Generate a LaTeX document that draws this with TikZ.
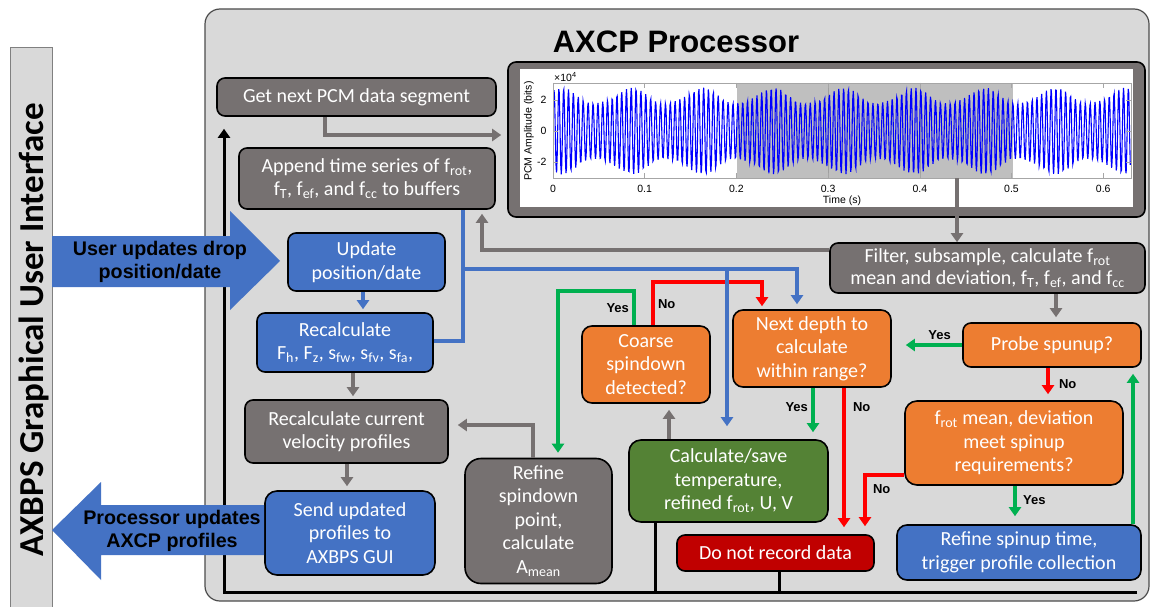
\documentclass[tikz,border=0pt]{standalone}
\usepackage{fontspec}
\setmainfont{Carlito}
\newfontfamily\arialfont{Liberation Sans}
\usetikzlibrary{arrows.meta}
\definecolor{panel}{HTML}{D9D9D9}
\definecolor{boxgray}{HTML}{767171}
\definecolor{boxblue}{HTML}{4472C4}
\definecolor{boxorange}{HTML}{ED7D31}
\definecolor{boxgreen}{HTML}{548235}
\definecolor{boxred}{HTML}{C00000}
\definecolor{argreen}{HTML}{00B050}
\definecolor{arred}{HTML}{FF0000}
\begin{document}
\begin{tikzpicture}[x=1pt, y=-1pt, >={Triangle[width=12pt,length=9pt]},
  box/.style={draw=black, line width=1.6pt, rounded corners=8pt, text=white, align=center,
    inner sep=0pt, font=\fontsize{20}{23.5}\selectfont},
  wire/.style={line width=3.5pt, ->},
  graywire/.style={wire, draw=boxgray},
  bluewire/.style={wire, draw=boxblue},
  yeswire/.style={wire, draw=argreen},
  nowire/.style={wire, draw=arred},
  loopline/.style={line width=3pt, draw=black},
  lbl/.style={font=\arialfont\bfseries\fontsize{13}{15}\selectfont, text=black},
  plottext/.style={font=\arialfont\fontsize{10.5}{12}\selectfont}]
  \useasboundingbox (0,0) rectangle (1151,607);

  \filldraw[fill=panel, draw=gray!60!black, line width=1.2pt, rounded corners=15pt] (205,9) rectangle (1149,601);
  \filldraw[fill=panel, draw=gray, line width=0.8pt] (10,47) rectangle (52,612);
  \node[rotate=90, font=\bfseries\fontsize{35}{40}\selectfont] (gui) at (34,330) {AXBPS Graphical User Interface};
  \node[font=\arialfont\bfseries\fontsize{31}{36}\selectfont] (title) at (676,42) {AXCP Processor};

  \node[draw=black, line width=1.6pt, fill=boxgray, rounded corners=8pt, minimum width=637pt,
    minimum height=155pt, inner sep=0pt] (chart) at (826.5,139.5) {};
  \fill[white] (520,69) rectangle (1133,207);
  \fill[gray!50] (737,83) rectangle (1013,178);
  \draw[gray!75, line width=0.5pt] (828.7,83) -- (828.7,178) (920.4,83) -- (920.4,178);
  \begin{scope}
    \clip (553,83) rectangle (1131,178);
    \draw[blue, line width=1.1pt] plot[domain=0:0.63, samples=1100]
      ({553+917*\x}, {131-15.5*(2.2*sin(360*mod(190*\x,1))+0.5*sin(360*mod(203*\x,1))+0.35*sin(360*mod(177*\x+0.3,1)))});
  \end{scope}
  \draw[gray!70, line width=0.6pt] (553,83) rectangle (1131,178);
  \foreach \k/\lab in {0/0,1/0.1,2/0.2,3/0.3,4/0.4,5/0.5,6/0.6} {
    \draw[gray!70, line width=0.5pt] (553+91.7*\k,178) -- ++(0,-5) (553+91.7*\k,83) -- ++(0,5);
    \node[plottext] at (553+91.7*\k,189) {\lab};
  }
  \foreach \v/\lab in {2/2,0/0,-2/-2} {
    \draw[gray!70, line width=0.5pt] (553,131-15.5*\v) -- ++(5,0) (1131,131-15.5*\v) -- ++(-5,0);
    \node[plottext, anchor=east] at (550,131-15.5*\v) {\lab};
  }
  \node[plottext, anchor=south west, inner sep=0pt] (scl) at (554,82) {×10\textsuperscript{4}};
  \node[plottext, rotate=90] (ylab) at (529,131) {PCM Amplitude (bits)};
  \node[plottext] (xlab) at (842,201) {Time (s)};

  \node[box, fill=boxgray, minimum width=279pt, minimum height=38pt] (getpcm) at (356.5,97) {Get next PCM data segment};
  \node[box, fill=boxgray, minimum width=256pt, minimum height=61pt] (append) at (367,178.5)
    {Append time series of f\textsubscript{rot},\\f\textsubscript{T}, f\textsubscript{ef}, and f\textsubscript{cc} to buffers};
  \node[box, fill=boxblue, minimum width=157pt, minimum height=58pt] (update) at (366.5,262) {Update\\position/date};
  \node[box, fill=boxblue, minimum width=176pt, minimum height=59pt] (recalc) at (345,342.5)
    {Recalculate\\F\textsubscript{h}, F\textsubscript{z}, s\textsubscript{fw}, s\textsubscript{fv}, s\textsubscript{fa},};
  \node[box, fill=boxgray, minimum width=203pt, minimum height=63pt] (velprof) at (346.5,431.5) {Recalculate current\\velocity profiles};
  \node[box, fill=boxblue, minimum width=170pt, minimum height=84pt, rounded corners=12pt] (send) at (350,533) {Send updated\\profiles to\\AXBPS GUI};
  \node[box, fill=boxgray, minimum width=147pt, minimum height=125pt, rounded corners=16pt] (refsd) at (538.5,521)
    {Refine\\spindown\\point,\\calculate\\A\textsubscript{mean}};
  \node[box, fill=boxorange, minimum width=128pt, minimum height=77pt, rounded corners=10pt] (coarse) at (646,364.5) {Coarse\\spindown\\detected?};
  \node[box, fill=boxorange, minimum width=158pt, minimum height=77pt, rounded corners=10pt] (nextd) at (812,348.5) {Next depth to\\calculate\\within range?};
  \node[box, fill=boxgreen, minimum width=199pt, minimum height=82pt, rounded corners=12pt] (calc) at (728.5,481)
    {Calculate/save\\temperature,\\refined f\textsubscript{rot}, U, V};
  \node[box, fill=boxred, minimum width=197pt, minimum height=36pt] (norec) at (775.5,553) {Do not record data};
  \node[box, fill=boxgray, minimum width=315pt, minimum height=50pt, font=\fontsize{20}{22}\selectfont] (filter) at (987.5,268)
    {Filter, subsample, calculate f\textsubscript{rot}\\mean and deviation, f\textsubscript{T}, f\textsubscript{ef}, and f\textsubscript{cc}};
  \node[box, fill=boxorange, minimum width=178pt, minimum height=44pt] (probe) at (1052,345) {Probe spunup?};
  \node[box, fill=boxorange, minimum width=218pt, minimum height=84pt, rounded corners=12pt] (frotm) at (1014,443)
    {f\textsubscript{rot} mean, deviation\\meet spinup\\requirements?};
  \node[box, fill=boxblue, minimum width=244pt, minimum height=55pt, rounded corners=10pt] (refsu) at (1019,552.5)
    {Refine spinup time,\\trigger profile collection};

  \coordinate (tsel) at (957,178);
  \coordinate (bsplit) at (463,269);
  \draw[graywire, shorten >=6pt] (getpcm.south -| 325,0) |- (chart.west |- 0,135);
  \draw[graywire] (tsel) -- (tsel |- filter.north);
  \draw[graywire, shorten >=4pt] (filter.west |- 0,250) -| (append.south -| 482,0);
  \draw[graywire, shorten >=5pt] (filter.south -| 1056,0) -- (probe.north -| 1056,0);
  \draw[yeswire, shorten >=14pt] (probe.west) -- (nextd.east |- probe.west) node[lbl, above, pos=.32] {Yes};
  \draw[nowire, shorten >=6pt] (probe.south -| 1048,0) -- (frotm.north -| 1048,0) node[lbl, right, midway, xshift=6pt] {No};
  \draw[nowire, shorten >=8pt] (frotm.west |- 0,475) -| (norec.north -| 865,0) node[lbl, right, pos=.62, xshift=3pt] {No};
  \draw[yeswire, shorten >=8pt] (frotm.south -| 1015,0) -- (refsu.north -| 1015,0) node[lbl, right, pos=.38, xshift=3pt] {Yes};
  \draw[yeswire, shorten >=6pt] (refsu.north -| 1133,0) -- (probe.south -| 1133,0);
  \draw[yeswire, shorten >=7pt] (nextd.south -| 813,0) -- (calc.north -| 813,0) node[lbl, left, pos=.38] {Yes};
  \draw[nowire, shorten >=7pt] (nextd.south -| 844,0) -- (norec.north -| 844,0) node[lbl, right, pos=.13, xshift=4pt] {No};
  \draw[graywire, shorten >=6pt] (calc.north -| 669,0) -- (coarse.south -| 669,0);
  \draw[yeswire, shorten >=5pt] (coarse.north -| 634,0) -- ++(0,-34) node[lbl, left, midway] {Yes} -| (refsd.north -| 558,0);
  \draw[nowire, shorten >=3pt] (coarse.north -| 653,0) -- ++(0,-43) node[lbl, right, midway] {No} -| (nextd.north -| 762,0);
  \draw[graywire, shorten >=9pt] (refsd.north -| 533,0) |- (velprof.east |- 0,425);
  \draw[bluewire, shorten >=3pt] (update.south -| 363,0) -- (recalc.north -| 363,0);
  \draw[graywire, shorten >=3pt] (recalc.south -| 353,0) -- (velprof.north -| 353,0);
  \draw[graywire, shorten >=4pt] (velprof.south -| 347,0) -- (send.north -| 347,0);
  \draw[bluewire, -] (recalc.east |- 0,341) -| (append.south -| bsplit);
  \draw[bluewire, shorten >=5pt] (bsplit) -| (nextd.north -| 797,0);
  \draw[bluewire, shorten >=13pt] (bsplit -| 727,0) -- (calc.north -| 727,0);

  \coordinate (loopr) at (1137,592);
  \coordinate (loopl) at (224,592);
  \draw[loopline] (calc.south -| 655,0) -- (loopl -| 655,0);
  \draw[loopline] (norec.south -| 779,0) -- (loopl -| 779,0);
  \draw[loopline, ->, shorten >=12pt] (loopr) -- (loopl) -- (getpcm.south -| loopl);

  \fill[boxblue] (52,236) -- (230,236) -- (230,211) -- (280,261) -- (230,310) -- (230,287) -- (52,287) -- cycle;
  \fill[boxblue] (264,505) -- (101,505) -- (101,482) -- (52,530) -- (101,580) -- (101,555) -- (264,555) -- cycle;
  \node[font=\arialfont\bfseries\fontsize{19.7}{23}\selectfont, align=center] (usr) at (160,262) {User updates drop\\position/date};
  \node[font=\arialfont\bfseries\fontsize{19.7}{23}\selectfont, align=center] (proc) at (172,531) {Processor updates\\AXCP profiles};
\end{tikzpicture}
\end{document}
